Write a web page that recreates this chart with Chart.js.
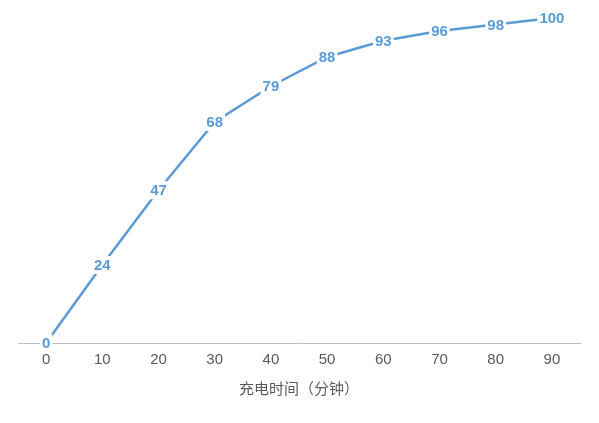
<!DOCTYPE html>
<html><head><meta charset="utf-8">
<script src="https://cdn.jsdelivr.net/npm/chart.js@4"></script>
<style>html,body{margin:0;padding:0;background:#fff}#w{width:599px;height:423px}</style>
</head><body><div id="w"><canvas id="c"></canvas></div>
<script>
const categories = ['0','10','20','30','40','50','60','70','80','90'];
const values = [0,24,47,68,79,88,93,96,98,100];
const xTitle = '充电时间（分钟）';
const color = '#5B9BD5';
const labelPlugin = {
  id:'lbl',
  afterDatasetsDraw(chart){
    const ctx = chart.ctx;
    const meta = chart.getDatasetMeta(0);
    ctx.save();
    ctx.font = 'bold 15px "Liberation Sans", Arial, sans-serif';
    ctx.textAlign='center'; ctx.textBaseline='middle';
    meta.data.forEach((p,i)=>{
      const t = String(values[i]);
      const w = ctx.measureText(t).width;
      ctx.fillStyle='#fff';
      ctx.fillRect(p.x-w/2-2,p.y-9,w+4,18);
      ctx.fillStyle=color;
      ctx.fillText(t,p.x,p.y+1);
    });
    ctx.restore();
  }
};
new Chart(document.getElementById('c'),{
  type:'line',
  data:{labels:categories,datasets:[{data:values,borderColor:color,borderWidth:2.5,pointRadius:0,tension:0,fill:false}]},
  options:{
    responsive:true,maintainAspectRatio:false,animation:false,
    layout:{padding:{left:18,right:19,top:18,bottom:22}},
    plugins:{legend:{display:false},tooltip:{enabled:false}},
    scales:{
      x:{offset:true,grid:{display:false,drawTicks:false},border:{color:'#BFBFBF'},
        ticks:{color:'#595959',font:{size:15,family:'"Liberation Sans", Arial, sans-serif'},padding:8},
        title:{display:true,text:xTitle,color:'#595959',font:{size:15,family:'"Noto Sans CJK SC", sans-serif'},padding:{top:2}}},
      y:{display:false,min:0,max:100}
    }
  },
  plugins:[labelPlugin]
});
</script></body></html>
